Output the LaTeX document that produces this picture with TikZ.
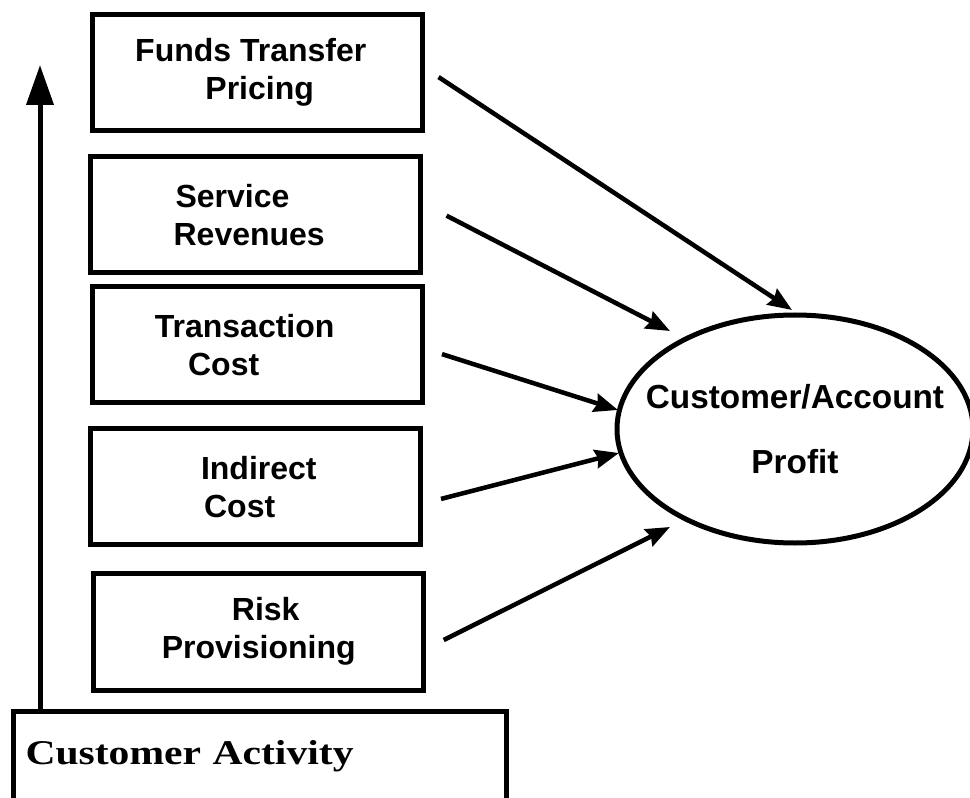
\documentclass[tikz,border=0pt]{standalone}
\usepackage{fontspec}
\setsansfont{Liberation Sans}
\newfontfamily\actfont{Liberation Serif}[FakeStretch=1.2]
\usetikzlibrary{arrows.meta, shapes.geometric, positioning}

\begin{document}
\begin{tikzpicture}[x=0.75pt, y=-0.75pt,
    box/.style={draw, line width=3.75pt, minimum width=247.5pt, minimum height=87.4pt,
        outer sep=0pt, align=center,
        font=\sffamily\bfseries\fontsize{24}{28.5}\selectfont},
    arr/.style={-{Stealth[length=18pt, width=14pt, inset=2pt]}, line width=3.4pt},
    rise/.style={-{Triangle[length=30pt, width=20pt]}, line width=3.75pt}
  ]
  \path[use as bounding box] (0,0) rectangle (970,798);
  \clip (0,0) rectangle (970,798);

  % the five building blocks
  \node[box] (ftp) at (257,72.4) {\hspace*{-9.3pt}Funds Transfer\\\hspace*{4pt}Pricing};
  \node[box, below=19.3pt of ftp, xshift=-1.5pt] (serv)
  {\hspace*{-33.75pt}Service\\\hspace*{-8.7pt}Revenues};
  \node[box, below=10.1pt of serv, xshift=1.5pt] (trans)
  {\hspace*{-18.5pt}Transaction\\\hspace*{-50pt}Cost};
  \node[box, below=19.1pt of trans, xshift=-1.5pt] (indir)
  {\hspace*{5.7pt}Indirect\\\hspace*{-23pt}Cost};
  \node[box, below=21.4pt of indir, xshift=2.8pt] (risk)
  {\hspace*{10.5pt}Risk\\Provisioning};

  % activity base and result
  \node[draw, line width=3.75pt, anchor=north west, outer sep=0pt,
    inner xsep=9pt, inner ysep=0pt, text width=351.75pt, align=left,
    text height=40.1pt, text depth=45pt,
    font=\actfont\bfseries\fontsize{26}{30}\selectfont] (act) at (13.5,711.5) {Customer Activity};
  \node[draw, ellipse, line width=3.75pt, minimum width=267pt, minimum height=171pt,
    inner sep=0pt] (prof) at (795,429) {};
  \node[align=center, font=\sffamily\bfseries\fontsize{25}{48.75}\selectfont]
  (proftxt) at (prof) {Customer/Account\\Profit};

  \coordinate (top) at (40,65);
  \draw[rise] (act.north -| top) -- (top);

  \draw[arr] ([xshift=12.4pt,yshift=-3.5pt]ftp.east) -- ([xshift=-2.25pt,yshift=89.25pt]prof.center);
  \draw[arr] ([xshift=19.9pt,yshift=-0.75pt]serv.east) -- ([xshift=-93.75pt,yshift=73.5pt]prof.center);
  \draw[arr] ([xshift=15pt,yshift=-7.1pt]trans.east) -- ([xshift=-132.75pt,yshift=14.25pt]prof.center);
  \draw[arr] ([xshift=15.75pt,yshift=-9.2pt]indir.east) -- ([xshift=-132pt,yshift=-18pt]prof.center);
  \draw[arr] ([xshift=15pt,yshift=-6.2pt]risk.east) -- ([xshift=-93.75pt,yshift=-73.5pt]prof.center);
\end{tikzpicture}
\end{document}
